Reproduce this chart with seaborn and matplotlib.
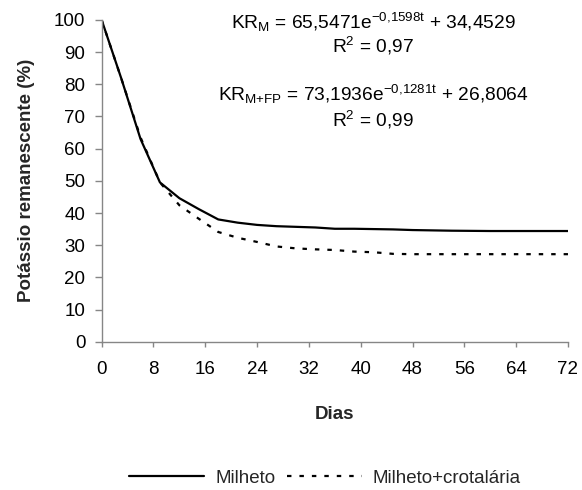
import matplotlib
matplotlib.use("Agg")
import matplotlib.pyplot as plt
import seaborn as sns
import pandas as pd

# Sampling days and remaining potassium (%) for each cover crop residue
dias = [0, 3, 6, 9, 12, 15, 18, 21, 24, 27, 30, 33, 36, 39, 42, 45, 48, 54, 60, 66, 72]
milheto = [100, 82, 63, 49.5, 44.6, 41.2, 38.0, 37.0, 36.3, 35.9, 35.7, 35.5, 35.1,
           35.1, 35.0, 34.9, 34.7, 34.5, 34.4, 34.4, 34.4]
milheto_crot = [100, 82, 63.5, 49.5, 42.4, 38.2, 34.1, 32.3, 31.0, 29.6, 29.0, 28.7,
                28.5, 28.0, 27.8, 27.3, 27.2, 27.2, 27.2, 27.2, 27.2]
series_names = ["Milheto", "Milheto+crotalária"]
x_ticks = [0, 8, 16, 24, 32, 40, 48, 56, 64, 72]
y_ticks = [0, 10, 20, 30, 40, 50, 60, 70, 80, 90, 100]

eq_m = r"KR$_{\mathrm{M}}$ = 65,5471e$^{\mathrm{-0{,}1598t}}$ + 34,4529"
r2_m = r"R$^{\mathrm{2}}$ = 0,97"
eq_mfp = r"KR$_{\mathrm{M{+}FP}}$ = 73,1936e$^{\mathrm{-0{,}1281t}}$ + 26,8064"
r2_mfp = r"R$^{\mathrm{2}}$ = 0,99"

sns.set_theme(style="white")
plt.rcParams["font.family"] = ["Liberation Sans", "DejaVu Sans"]
plt.rcParams["mathtext.fontset"] = "custom"
plt.rcParams["mathtext.rm"] = "Liberation Sans"
plt.rcParams["mathtext.it"] = "Liberation Sans:italic"
plt.rcParams["mathtext.bf"] = "Liberation Sans:bold"

FS = 13.5
df = pd.DataFrame({
    "Dias": dias * 2,
    "K": milheto + milheto_crot,
    "Tratamento": [series_names[0]] * len(dias) + [series_names[1]] * len(dias),
})

fig = plt.figure(figsize=(5.82, 4.90), dpi=100)
ax = fig.add_axes([0.1747, 0.3027, 0.8012, 0.6565])

sns.lineplot(
    data=df, x="Dias", y="K", hue="Tratamento", style="Tratamento",
    palette={series_names[0]: "black", series_names[1]: "black"},
    dashes={series_names[0]: "", series_names[1]: (2, 3.6)},
    linewidth=1.6, ax=ax, legend=True,
)

ax.set_xlim(0, 72)
ax.set_ylim(0, 100)
ax.set_xticks(x_ticks)
ax.set_yticks(y_ticks)
ax.set_xticklabels([str(v) for v in x_ticks], fontsize=FS)
ax.set_yticklabels([str(v) for v in y_ticks], fontsize=FS)

grey = "#868686"
for side in ["top", "right"]:
    ax.spines[side].set_visible(False)
for side in ["left", "bottom"]:
    ax.spines[side].set_color(grey)
    ax.spines[side].set_linewidth(1.0)
ax.tick_params(axis="x", direction="out", length=3.8, width=1.0, color=grey,
               pad=10.0, labelcolor="black", bottom=True)
ax.tick_params(axis="y", direction="out", length=4.7, width=1.0, color=grey,
               pad=7.0, labelcolor="black", left=True)

ax.set_xlabel("Dias", fontsize=FS, fontweight="bold")
ax.set_ylabel("Potássio remanescente (%)", fontsize=FS, fontweight="bold")
ax.xaxis.set_label_coords(0.5, -0.2)
ax.yaxis.set_label_coords(-0.142, 0.5)

# Fitted model equations
xc = (373 - 101.7) / (568 - 101.7)
def ypos(py):
    return (341.7 - py) / (341.7 - 20.0)
for txt, py in [(eq_m, 22), (r2_m, 46), (eq_mfp, 94), (r2_mfp, 120)]:
    ax.text(xc, ypos(py), txt, transform=ax.transAxes, ha="center", va="center",
            fontsize=13.8, color="black")

handles, labels = ax.get_legend_handles_labels()
ax.legend_.remove()
fig.legend(handles, labels, loc="center", bbox_to_anchor=(325 / 582, 1 - 478 / 490),
           ncol=2, frameon=False, fontsize=FS, handlelength=4.0,
           handletextpad=0.6, columnspacing=0.6)

fig.savefig("out.png", dpi=100)
